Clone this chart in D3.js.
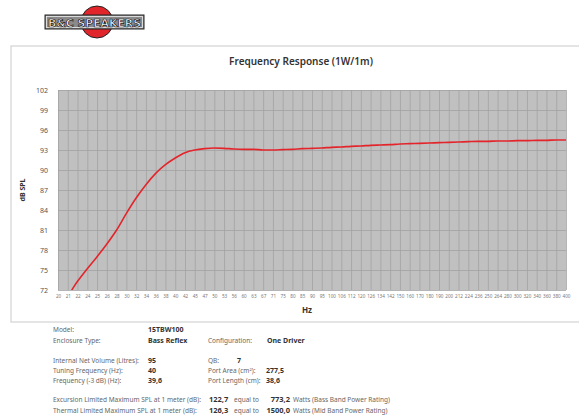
<!DOCTYPE html>
<html>
<head>
<meta charset="utf-8">
<script src="https://cdn.jsdelivr.net/npm/d3@7"></script>
<style>
  body { margin: 0; background: #fff; }
  svg { display: block; font-family: 'Noto Sans', sans-serif; }
</style>
</head>
<body>
<svg id="chart" width="579" height="418"></svg>
<script>
// 1/12 octave steps, evenly spaced on the x axis
const freqs = ['20', '21', '22', '24', '25', '26', '28', '30', '32', '34', '36', '38', '40', '42', '45', '47',
  '50', '53', '56', '60', '63', '67', '71', '75', '80', '85', '90', '95', '100', '106', '112', '120', '126',
  '134', '142', '150', '160', '170', '180', '190', '200', '212', '224', '236', '250', '264', '280', '300',
  '320', '340', '360', '380', '400']

const spl = [69.2, 71.1, 73.3, 75.2, 77.0, 78.9, 81.0, 83.5, 85.8, 87.8, 89.5, 90.8, 91.8, 92.6, 93.0, 93.2,
  93.3, 93.25, 93.15, 93.1, 93.1, 93.0, 93.0, 93.05, 93.1, 93.2, 93.25, 93.3, 93.4, 93.45, 93.55, 93.6, 93.7,
  93.75, 93.8, 93.9, 93.95, 94.0, 94.05, 94.1, 94.15, 94.2, 94.25, 94.3, 94.3, 94.35, 94.35, 94.4,
  94.4, 94.45, 94.45, 94.5, 94.5]

const yTicks = [72, 75, 78, 81, 84, 87, 90, 93, 96, 99, 102]

const specLeft = [
  ['Model:', '15TBW100'],
  ['Enclosure Type:', 'Bass Reflex'],
  null,
  ['Internal  Net Volume (Litres):', '95'],
  ['Tuning Frequency (Hz):', '40'],
  ['Frequency (-3 dB) (Hz):', '39,6']
]
const specRight = [
  null,
  ['Configuration:', 'One Driver'],
  null,
  ['QB:', '7'],
  ['Port Area (cm²):', '277,5'],
  ['Port Length (cm):', '38,6']
]
const splRows = [
  ['Excursion Limited Maximum SPL at 1 meter (dB):', '122,7', '773,2', 'Watts (Bass Band Power Rating)'],
  ['Thermal Limited Maximum SPL at 1 meter (dB):', '126,3', '1500,0', 'Watts (Mid Band Power Rating)']
]

const PLOT = { left: 58, right: 566, top: 90, bottom: 290 }

const svg = d3.select('#chart')

// logo
const logo = svg.append('g')
logo.append('circle').attr('cx', 97).attr('cy', 22).attr('r', 16)
  .attr('fill', '#e0262a').attr('stroke', '#222').attr('stroke-width', 1)
logo.append('rect').attr('x', 45).attr('y', 15).attr('width', 99).attr('height', 14)
  .attr('fill', '#8a8a8a').attr('stroke', '#222').attr('stroke-width', 1)
logo.append('rect').attr('x', 46.5).attr('y', 16.5).attr('width', 96).attr('height', 11)
  .attr('fill', 'none').attr('stroke', '#eee').attr('stroke-width', 0.8)
logo.append('text').attr('x', 48).attr('y', 26.5)
  .attr('textLength', 93).attr('lengthAdjust', 'spacingAndGlyphs')
  .style('font-family', "'DejaVu Sans Condensed', 'DejaVu Sans', sans-serif")
  .style('font-size', '11px').style('font-weight', 'bold')
  .attr('fill', '#fff').attr('stroke', '#222').attr('stroke-width', 0.7)
  .text('B&C SPEAKERS')

// frame
svg.append('rect').attr('x', 11).attr('y', 46).attr('width', 600).attr('height', 276)
  .attr('fill', 'none').attr('stroke', '#dcdcdc').attr('stroke-width', 1.5)

svg.append('text').attr('x', 301).attr('y', 65).attr('text-anchor', 'middle')
  .style('font-size', '10px').style('font-weight', 600).attr('fill', '#333')
  .text('Frequency Response (1W/1m)')

const x = d3.scalePoint().domain(freqs).range([PLOT.left, PLOT.right])
const y = d3.scaleLinear().domain([72, 102]).range([PLOT.bottom, PLOT.top])

svg.append('rect').attr('x', PLOT.left).attr('y', PLOT.top)
  .attr('width', PLOT.right - PLOT.left).attr('height', PLOT.bottom - PLOT.top)
  .attr('fill', '#c0c0c0')

// grid
svg.append('g')
  .attr('transform', 'translate(0,' + PLOT.bottom + ')')
  .call(d3.axisBottom(x).tickSize(-(PLOT.bottom - PLOT.top)).tickFormat(''))
  .call(g => g.select('.domain').remove())
  .call(g => g.selectAll('line').attr('stroke', '#a2a2a2').attr('stroke-width', 0.8))

svg.append('g')
  .attr('transform', 'translate(' + PLOT.left + ',0)')
  .call(d3.axisLeft(y).tickValues(yTicks).tickSize(-(PLOT.right - PLOT.left)).tickFormat(''))
  .call(g => g.select('.domain').remove())
  .call(g => g.selectAll('line').attr('stroke', '#a2a2a2').attr('stroke-width', 0.8))

// tick labels
svg.append('g')
  .attr('transform', 'translate(' + (PLOT.left - 7) + ',0)')
  .call(d3.axisLeft(y).tickValues(yTicks).tickSize(0))
  .call(g => g.select('.domain').remove())
  .call(g => g.selectAll('text').attr('fill', '#555').style('font-size', '7px')
    .style('font-family', "'Noto Sans', sans-serif"))

svg.append('g')
  .attr('transform', 'translate(0,' + (PLOT.bottom + 2) + ')')
  .call(d3.axisBottom(x).tickSize(0))
  .call(g => g.select('.domain').remove())
  .call(g => g.selectAll('text').attr('fill', '#777').style('font-size', '4.6px')
    .style('font-family', "'Noto Sans', sans-serif"))

svg.append('text').attr('x', 307).attr('y', 313).attr('text-anchor', 'middle')
  .style('font-size', '8px').style('font-weight', 'bold').attr('fill', '#333').text('Hz')

svg.append('text').attr('transform', 'translate(25,190) rotate(-90)')
  .attr('text-anchor', 'middle')
  .style('font-size', '7px').style('font-weight', 'bold').attr('fill', '#333').text('dB SPL')

// curve
svg.append('clipPath').attr('id', 'clip').append('rect')
  .attr('x', PLOT.left).attr('y', PLOT.top)
  .attr('width', PLOT.right - PLOT.left).attr('height', PLOT.bottom - PLOT.top)

const line = d3.line()
  .x((d, i) => x(freqs[i]))
  .y(d => y(d))
  .curve(d3.curveMonotoneX)

svg.append('path').datum(spl)
  .attr('clip-path', 'url(#clip)')
  .attr('d', line)
  .attr('fill', 'none')
  .attr('stroke', '#e3252b')
  .attr('stroke-width', 1.6)
  .attr('stroke-linejoin', 'round')

// spec table
const spec = svg.append('g').style('font-size', '6.5px')
const rowY = [332, 343, 352, 363, 373, 383]

specLeft.forEach((r, i) => {
  if (!r) return
  spec.append('text').attr('x', 53).attr('y', rowY[i]).attr('fill', '#666').text(r[0])
  spec.append('text').attr('x', 148).attr('y', rowY[i]).attr('fill', '#333')
    .style('font-weight', 'bold').style('font-size', '7px').text(r[1])
})
specRight.forEach((r, i) => {
  if (!r) return
  spec.append('text').attr('x', 208).attr('y', rowY[i]).attr('fill', '#666').text(r[0])
  spec.append('text').attr('x', i === 3 ? 237 : (i === 1 ? 267 : 266)).attr('y', rowY[i]).attr('fill', '#333')
    .style('font-weight', 'bold').style('font-size', '7px').text(r[1])
})

splRows.forEach((r, i) => {
  const yy = 402 + i * 10.5
  spec.append('text').attr('x', 53).attr('y', yy).attr('fill', '#666').text(r[0])
  spec.append('text').attr('x', 209).attr('y', yy).attr('fill', '#333').style('font-weight', 'bold')
    .style('font-size', '7.5px').text(r[1])
  spec.append('text').attr('x', 234).attr('y', yy).attr('fill', '#666').text('equal to')
  spec.append('text').attr('x', 290).attr('y', yy).attr('text-anchor', 'end').attr('fill', '#333')
    .style('font-weight', 'bold').style('font-size', '7.5px').text(r[2])
  spec.append('text').attr('x', 293).attr('y', yy).attr('fill', '#666').text(r[3])
})
</script>
</body>
</html>
